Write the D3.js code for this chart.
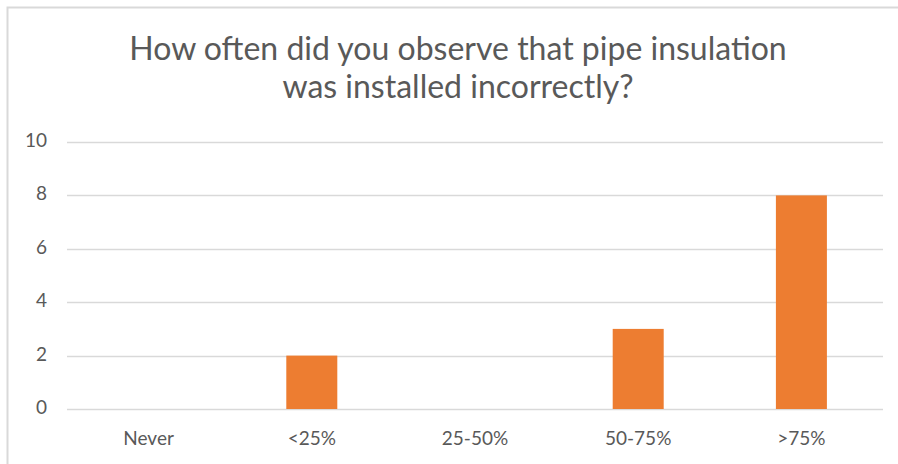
<!DOCTYPE html>
<html>
<head>
<meta charset="utf-8">
<script src="https://cdn.jsdelivr.net/npm/d3@7"></script>
<style>
	body { margin: 0; background: #fff; }
	svg { display: block; }
</style>
</head>
<body>
<div id="chart"></div>
<script>
// data
var categories = ["Never", "<25%", "25-50%", "50-75%", ">75%"];
var counts = [0, 2, 0, 3, 8];
var yTicks = [0, 2, 4, 6, 8, 10];
var titleLines = ["How often did you observe that pipe insulation", "was installed incorrectly?"];

var W = 898, H = 464;
var margin = { top: 142, right: 15, bottom: 55, left: 67 },
	width = W - margin.left - margin.right,
	height = H - margin.top - margin.bottom;

var svg = d3.select("#chart")
	.append("svg")
	.attr("width", W)
	.attr("height", H);

// chart frame (only top + left edges are visible in the crop)
svg.append("rect")
	.attr("x", 7.5)
	.attr("y", 7.5)
	.attr("width", W + 20)
	.attr("height", H + 20)
	.attr("fill", "none")
	.attr("stroke", "#d9d9d9")
	.attr("stroke-width", 2);

var title = svg.append("text")
	.attr("text-anchor", "middle")
	.attr("fill", "#595959")
	.style("font-family", "Lato, 'Open Sans', sans-serif")
	.style("font-size", "32px");
title.selectAll("tspan")
	.data(titleLines)
	.enter()
	.append("tspan")
	.attr("x", 458)
	.attr("y", function (d, i) { return 60 + i * 38; })
	.text(function (d) { return d; });

var g = svg.append("g")
	.attr("transform", "translate(" + margin.left + "," + margin.top + ")");

var x = d3.scaleBand()
	.domain(categories)
	.range([0, width])
	.paddingInner(0.6875)
	.paddingOuter(0.34375);

var y = d3.scaleLinear()
	.domain([0, 10])
	.range([height, 0]);

// gridlines
g.selectAll("line.grid")
	.data(yTicks)
	.enter()
	.append("line")
	.attr("class", "grid")
	.attr("x1", 0)
	.attr("x2", width)
	.attr("y1", function (d) { return Math.round(y(d)) + 0.5; })
	.attr("y2", function (d) { return Math.round(y(d)) + 0.5; })
	.attr("stroke", "#d9d9d9")
	.attr("stroke-width", 1.5);

// y tick labels
g.selectAll("text.ylab")
	.data(yTicks)
	.enter()
	.append("text")
	.attr("class", "ylab")
	.attr("x", -20)
	.attr("y", function (d) { return y(d) + 5; })
	.attr("text-anchor", "end")
	.attr("fill", "#595959")
	.style("font-family", "Lato, 'Open Sans', sans-serif")
	.style("font-size", "19px")
	.text(function (d) { return d; });

// bars
g.selectAll("rect.bar")
	.data(counts)
	.enter()
	.append("rect")
	.attr("class", "bar")
	.attr("x", function (d, i) { return x(categories[i]); })
	.attr("width", x.bandwidth())
	.attr("y", function (d) { return y(d); })
	.attr("height", function (d) { return height - y(d); })
	.attr("fill", "#ed7d31");

// category labels
g.selectAll("text.xlab")
	.data(categories)
	.enter()
	.append("text")
	.attr("class", "xlab")
	.attr("x", function (d) { return x(d) + x.bandwidth() / 2; })
	.attr("y", height + 36)
	.attr("text-anchor", "middle")
	.attr("fill", "#595959")
	.style("font-family", "Lato, 'Open Sans', sans-serif")
	.style("font-size", "19px")
	.text(function (d) { return d; });
</script>
</body>
</html>
